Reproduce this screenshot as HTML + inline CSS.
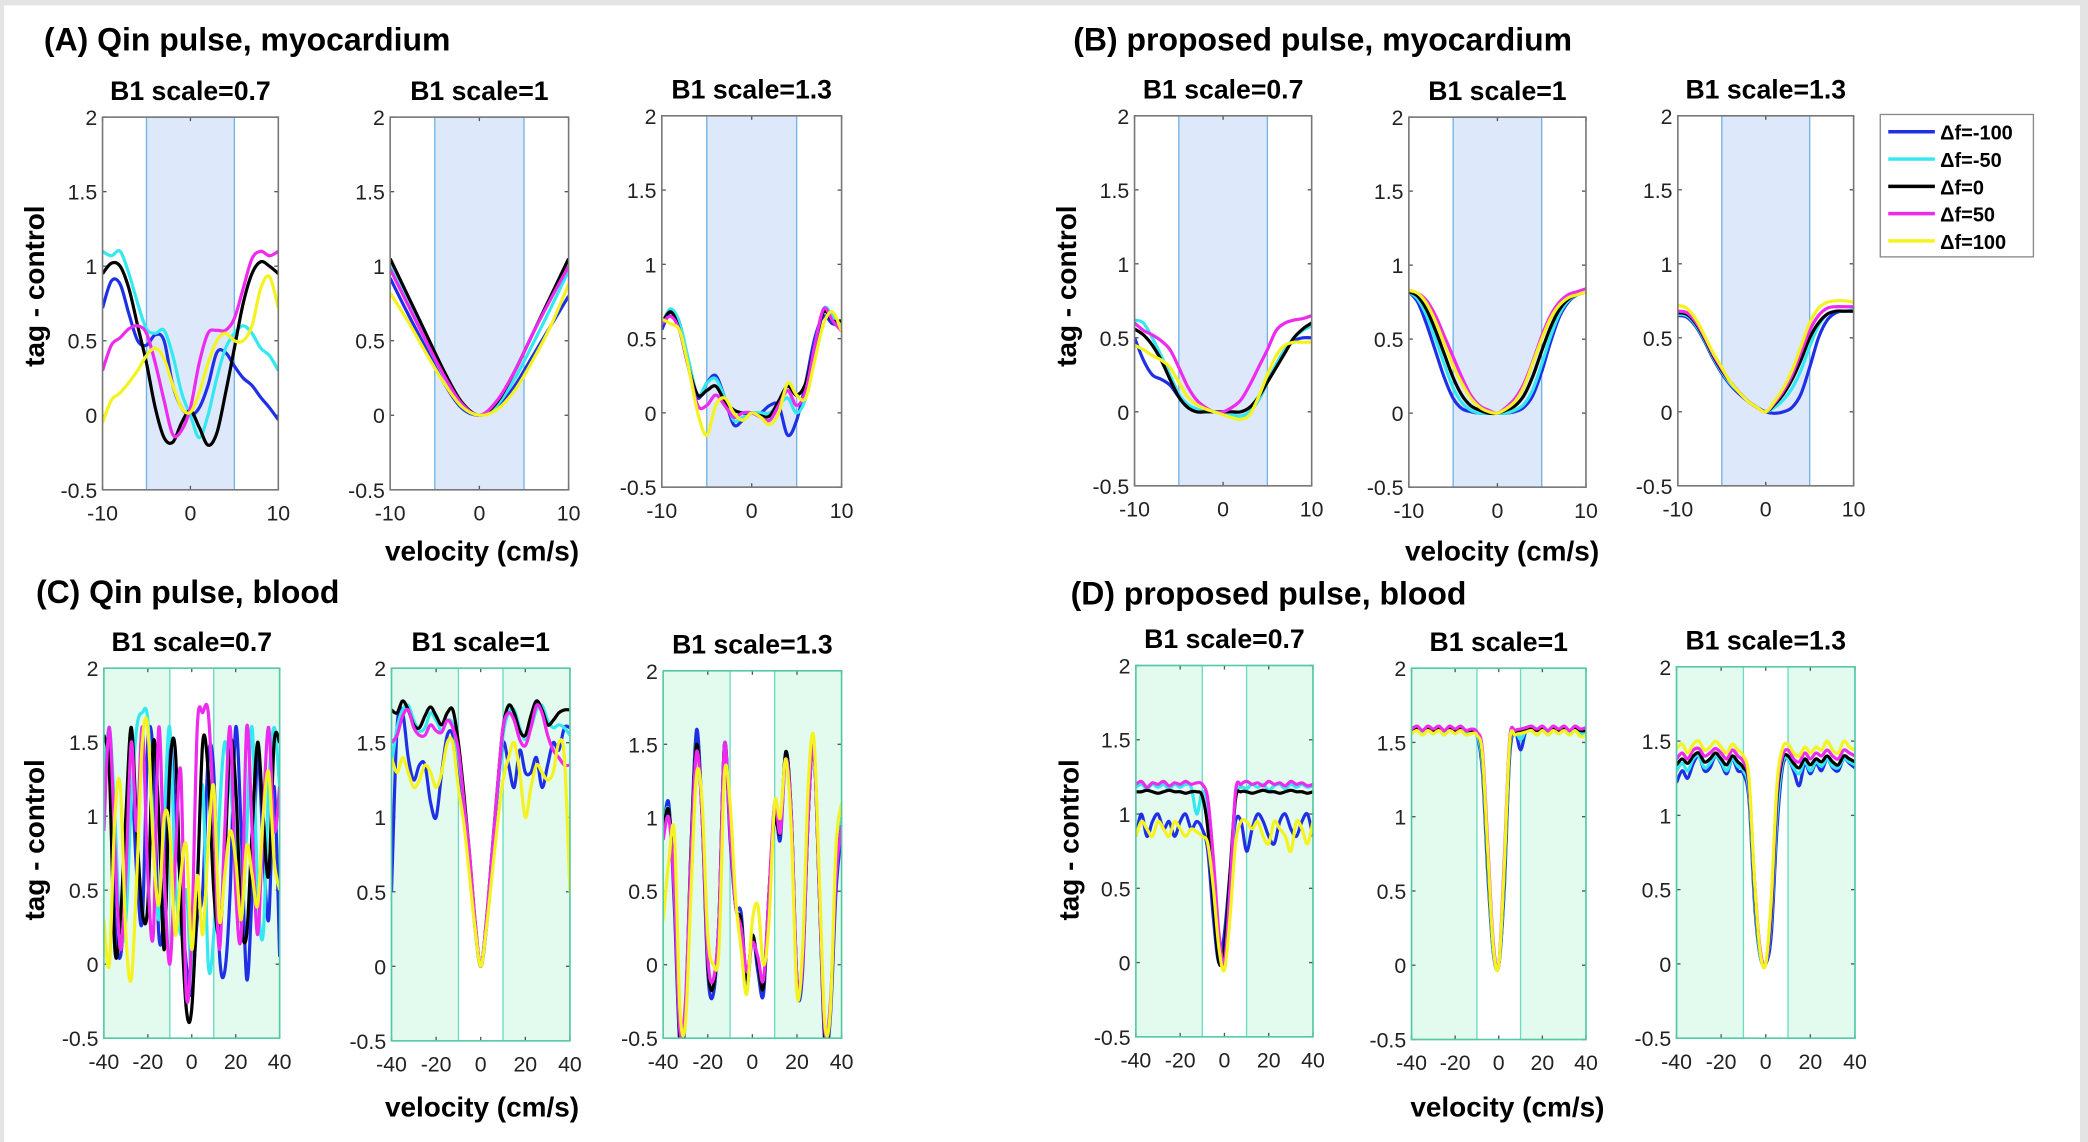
<!DOCTYPE html>
<html><head><meta charset="utf-8"><style>
html,body{margin:0;padding:0;background:#e4e4e4;}
svg{display:block;}
text{font-family:"Liberation Sans",Arial,sans-serif;}
</style></head><body>
<svg id="fig" width="2088" height="1142" viewBox="0 0 1568 858" preserveAspectRatio="none" xmlns="http://www.w3.org/2000/svg">
<rect x="3" y="4" width="1559" height="856" fill="#fff"/>
<g font-weight="bold" font-size="24" fill="#000">
<text x="33" y="38">(A) Qin pulse, myocardium</text>
<text x="806" y="38">(B) proposed pulse, myocardium</text>
<text x="27" y="453">(C) Qin pulse, blood</text>
<text x="804" y="454">(D) proposed pulse, blood</text>
</g>
<g font-weight="bold" font-size="21" fill="#000" text-anchor="middle">
<text x="362" y="421">velocity (cm/s)</text>
<text x="1128" y="421">velocity (cm/s)</text>
<text x="362" y="839">velocity (cm/s)</text>
<text x="1132" y="839">velocity (cm/s)</text>
<text transform="translate(33,215) rotate(-90)">tag - control</text>
<text transform="translate(808,215) rotate(-90)">tag - control</text>
<text transform="translate(33,631) rotate(-90)">tag - control</text>
<text transform="translate(810,631) rotate(-90)">tag - control</text>
</g>
<g id="panels"></g>
<g id="legend">
<rect x="1412" y="86" width="115" height="107" fill="#fff" stroke="#888" stroke-width="1"/>
</g>
</svg>
<script>
// ---- data ----
const seriesNames = ['\u0394f=-100','\u0394f=-50','\u0394f=0','\u0394f=50','\u0394f=100'];
const seriesColors = ['#1f2fe6','#33e8f0','#000000','#ee2aee','#f4f21f'];
const subTitles = ['B1 scale=0.7','B1 scale=1','B1 scale=1.3'];
const yTicks = [-0.5,0,0.5,1,1.5,2];
const yTickLabels = ['-0.5','0','0.5','1','1.5','2'];
const xTicksTop = [-10,0,10];
const xTicksBot = [-40,-20,0,20,40];
const velTop = [-10,-9,-8,-7,-6,-5,-4,-3,-2,-1,0,1,2,3,4,5,6,7,8,9,10];
const velTop2 = [-10,-8,-6,-4,-2,0,2,4,6,8,10];
const velBot = [-40,-37.5,-35,-32.5,-30,-27.5,-25,-22.5,-20,-17.5,-15,-12.5,-10,-7.5,-5,-2.5,0,2.5,5,7.5,10,12.5,15,17.5,20,22.5,25,27.5,30,32.5,35,37.5,40];

const A1 = [
[.72,.9,.88,.68,.5,.47,.54,.5,.2,.05,0,.05,.2,.42,.42,.33,.25,.2,.12,.05,-.03],
[1.1,1.07,1.1,.95,.75,.58,.55,.57,.4,.15,0,-.15,0,.25,.45,.55,.6,.55,.45,.4,.3],
[.95,1.02,1.0,.85,.6,.35,.05,-.15,-.18,-.05,.03,-.08,-.2,-.12,.15,.45,.75,.95,1.03,1.0,.95],
[.3,.47,.52,.58,.6,.55,.35,.1,-.13,-.1,.05,.35,.55,.57,.57,.65,.85,1.05,1.1,1.07,1.1],
[-.05,.1,.15,.22,.3,.4,.45,.38,.2,.05,.02,.15,.35,.5,.55,.5,.5,.6,.85,.93,.72]];
const A2 = [
[.92,.68,.45,.22,.05,0,.05,.2,.4,.6,.8],
[1.0,.75,.5,.27,.07,0,.07,.25,.48,.72,.97],
[1.05,.8,.55,.3,.09,0,.09,.3,.55,.8,1.05],
[.98,.74,.5,.27,.08,0,.1,.3,.55,.78,1.0],
[.82,.63,.42,.22,.06,0,.04,.17,.37,.6,.88]];
const A3 = [
[.56,.68,.6,.3,.1,.2,.25,.1,-.08,-.05,0,0,.05,.05,-.15,-.05,.2,.5,.65,.6,.6],
[.6,.7,.6,.35,.12,.2,.23,.1,-.05,-.03,0,0,0,.05,.1,0,.1,.4,.7,.65,.6],
[.6,.68,.55,.3,.12,.15,.18,.08,.02,0,0,-.02,-.02,.08,.18,.12,.2,.45,.68,.62,.62],
[.6,.65,.55,.3,.05,.05,.12,.05,-.03,0,0,-.03,-.05,.05,.15,.05,.15,.45,.7,.62,.55],
[.63,.6,.55,.3,0,-.15,.05,.1,0,-.05,0,-.03,-.08,0,.2,.12,.1,.35,.6,.68,.55]];
const B1 = [
[.5,.35,.25,.22,.18,.1,.03,.01,0,0,0,-.02,-.03,0,.08,.2,.32,.42,.48,.5,.5],
[.62,.6,.5,.38,.25,.12,.05,.02,0,0,0,-.02,-.03,0,.08,.2,.32,.42,.5,.55,.58],
[.56,.52,.45,.35,.22,.1,.03,0,0,0,0,0,0,.03,.1,.2,.3,.4,.5,.56,.6],
[.6,.55,.52,.48,.42,.3,.17,.08,.03,0,0,.03,.08,.18,.3,.42,.55,.6,.62,.63,.65],
[.45,.42,.38,.35,.3,.2,.1,.05,.02,0,-.02,-.04,-.05,-.02,.1,.25,.38,.45,.47,.47,.47]];
const B2 = [
[.82,.75,.6,.42,.24,.1,.03,.01,0,0,0,0,.01,.04,.12,.28,.48,.65,.75,.8,.82],
[.82,.77,.66,.5,.33,.17,.07,.02,0,0,0,0,.02,.06,.16,.33,.52,.67,.76,.8,.82],
[.82,.79,.7,.56,.4,.24,.12,.05,.02,0,0,.02,.05,.12,.25,.42,.58,.7,.77,.8,.82],
[.83,.81,.76,.66,.52,.38,.24,.12,.05,.02,0,.04,.1,.2,.35,.52,.66,.75,.8,.82,.84],
[.83,.81,.74,.62,.47,.32,.2,.1,.04,.01,0,.03,.08,.18,.34,.5,.64,.73,.78,.8,.82]];
const B3 = [
[.65,.64,.58,.48,.36,.26,.18,.12,.07,.03,0,-.01,0,.03,.12,.3,.5,.62,.67,.68,.68],
[.66,.65,.59,.49,.37,.27,.19,.13,.07,.03,0,.03,.08,.16,.28,.44,.58,.66,.68,.68,.69],
[.67,.66,.6,.5,.38,.28,.2,.13,.07,.03,0,.05,.12,.22,.35,.5,.6,.66,.68,.68,.68],
[.68,.67,.61,.51,.39,.29,.2,.13,.07,.03,0,.06,.14,.25,.4,.55,.65,.7,.71,.71,.71],
[.72,.7,.63,.52,.4,.3,.2,.13,.07,.03,0,.07,.16,.28,.44,.6,.7,.74,.75,.75,.74]];
const C1 = [
[1.1,1.5,.3,.05,.5,1.2,.6,.3,1.5,1.4,.2,.4,1.5,1.0,.5,0,-.2,.3,.5,1.4,1.3,.1,-.05,.5,1.6,.9,-.1,.5,1.4,.8,.3,1.2,.05],
[1.2,1.6,1.0,.2,.3,1.1,1.6,1.7,1.65,.9,.3,1.0,1.6,.6,.2,.5,-.1,.6,1.2,0,.2,1.0,1.5,1.2,.8,.3,.9,1.6,.5,.2,1.2,1.6,1.2],
[1.55,1.3,.1,.3,1.0,1.6,.9,.35,.4,1.5,1.0,.1,1.3,1.45,.4,-.3,-.3,.5,1.5,1.3,.5,.2,.7,1.5,1.2,.3,.2,.9,1.5,1.0,.6,1.5,1.5],
[.9,1.6,.8,.1,.6,1.5,.9,1.6,.6,.2,1.6,.6,0,.7,1.3,-.2,.2,1.6,1.7,1.7,1.0,.1,.9,1.6,.5,.2,1.6,.9,.2,1.0,1.6,.9,1.2],
[.3,0,1.0,1.2,.2,-.1,.6,1.5,1.6,.8,.4,1.0,.9,.2,.6,.8,.1,.6,.2,.8,1.2,.3,.6,.9,.7,.3,.8,.6,.4,1.0,1.3,.7,.5]];
const C2 = [
[.5,1.6,1.7,1.4,1.25,1.35,1.35,1.1,1.0,1.3,1.55,1.55,1.3,1.0,.65,.25,0,.25,.7,1.15,1.5,1.35,1.2,1.45,1.3,1.3,1.4,1.2,1.35,1.5,1.45,1.6,1.6],
[1.35,1.6,1.72,1.75,1.65,1.58,1.6,1.7,1.65,1.58,1.65,1.62,1.4,1.1,.7,.28,0,.28,.72,1.15,1.55,1.7,1.72,1.6,1.52,1.6,1.72,1.75,1.65,1.6,1.62,1.6,1.55],
[1.72,1.7,1.78,1.72,1.62,1.6,1.68,1.74,1.68,1.62,1.7,1.72,1.5,1.15,.75,.3,0,.3,.75,1.2,1.6,1.75,1.7,1.58,1.55,1.68,1.78,1.72,1.62,1.65,1.7,1.72,1.72],
[1.5,1.55,1.68,1.72,1.6,1.55,1.55,1.62,1.58,1.57,1.65,1.6,1.45,1.1,.75,.3,0,.3,.75,1.2,1.6,1.7,1.65,1.52,1.48,1.6,1.75,1.7,1.55,1.45,1.4,1.35,1.35],
[1.4,1.3,1.4,1.3,1.2,1.25,1.35,1.3,1.2,1.3,1.5,1.5,1.2,.95,.6,.25,0,.25,.6,.95,1.25,1.4,1.5,1.3,1.0,1.2,1.35,1.3,1.25,1.3,1.5,1.4,.5]];
const C3 = [
[.9,1.1,.4,-.55,-.35,.8,1.6,1.0,-.05,-.2,.3,1.5,.85,.4,.35,-.15,.2,-.05,-.2,.5,1.05,.85,1.45,1.0,-.15,-.05,1.0,1.5,.5,-.55,-.35,.5,.9],
[.95,1.05,.5,-.5,-.3,.8,1.5,1.0,0,-.15,.3,1.5,.95,.4,.3,-.1,.2,0,-.15,.5,1.0,.9,1.45,1.0,-.1,0,1.0,1.5,.5,-.5,-.3,.6,1.0],
[.9,1.05,.5,-.5,-.3,.8,1.5,1.0,0,-.15,.3,1.5,.9,.4,.3,-.1,.2,0,-.15,.5,1.0,.9,1.45,1.0,-.1,0,1.0,1.5,.5,-.5,-.3,.6,.95],
[.85,1.0,.5,-.45,-.25,.75,1.45,1.0,.05,-.1,.3,1.5,.9,.4,.25,-.05,.15,.05,-.1,.5,1.1,.9,1.4,1.0,-.1,0,1.0,1.5,.5,-.45,-.25,.6,.95],
[.3,.7,.9,-.3,-.4,.5,1.3,1.1,.2,.0,.1,1.3,1.1,.45,.1,-.2,.3,.4,0,.3,1.1,1.0,1.4,.9,-.2,.1,1.2,1.55,.6,-.4,-.3,.8,1.1]];
const D1 = [
[.85,1.0,.85,.95,1.0,.9,.95,.85,.95,1.0,.9,.95,.9,.75,.3,0,.2,.6,.95,.95,.75,.9,1.0,.95,.85,.8,.95,1.0,.9,.85,.95,1.0,.85],
[1.18,1.2,1.17,1.2,1.18,1.2,1.17,1.2,1.18,1.2,1.18,1.0,1.15,1.05,.6,.15,0,.45,1.1,1.18,1.17,1.2,1.18,1.2,1.16,1.19,1.2,1.17,1.2,1.18,1.2,1.18,1.19],
[1.15,1.15,1.16,1.15,1.14,1.15,1.16,1.15,1.15,1.14,1.15,1.15,1.12,.9,.4,0,.1,.6,1.1,1.15,1.15,1.14,1.15,1.16,1.15,1.15,1.14,1.15,1.16,1.15,1.15,1.14,1.15],
[1.2,1.22,1.18,1.21,1.2,1.22,1.19,1.21,1.2,1.22,1.2,1.21,1.2,1.1,.7,.2,0,.5,1.15,1.2,1.22,1.2,1.21,1.19,1.22,1.2,1.21,1.19,1.22,1.2,1.21,1.19,1.2],
[.85,.95,.9,.85,.95,.9,.85,.95,.9,.85,.9,.88,.85,.8,.5,.1,-.05,.3,.8,.95,.95,.9,.95,.85,.8,.95,.9,.85,.75,.95,.9,.8,.95]];
const D2 = [
[1.58,1.6,1.57,1.6,1.58,1.6,1.57,1.6,1.58,1.6,1.57,1.58,1.55,1.3,.6,.08,0,.5,1.4,1.57,1.45,1.58,1.6,1.58,1.6,1.57,1.6,1.58,1.6,1.57,1.6,1.55,1.57],
[1.58,1.6,1.57,1.6,1.58,1.6,1.57,1.6,1.58,1.6,1.57,1.58,1.55,1.35,.65,.1,0,.55,1.45,1.57,1.52,1.58,1.6,1.58,1.6,1.57,1.6,1.58,1.6,1.57,1.6,1.56,1.57],
[1.58,1.6,1.58,1.6,1.58,1.6,1.58,1.6,1.58,1.6,1.58,1.58,1.56,1.4,.7,.12,0,.6,1.48,1.57,1.58,1.59,1.6,1.58,1.6,1.58,1.6,1.58,1.6,1.58,1.6,1.58,1.58],
[1.59,1.61,1.58,1.61,1.59,1.61,1.58,1.61,1.59,1.61,1.58,1.59,1.57,1.45,.8,.15,0,.7,1.52,1.58,1.59,1.6,1.61,1.59,1.61,1.58,1.61,1.59,1.61,1.58,1.61,1.59,1.6],
[1.56,1.58,1.55,1.58,1.56,1.58,1.55,1.58,1.56,1.58,1.55,1.56,1.55,1.42,.75,.12,0,.65,1.5,1.55,1.56,1.57,1.58,1.55,1.58,1.55,1.58,1.56,1.58,1.55,1.58,1.54,1.55]];
const D3 = [
[1.22,1.3,1.25,1.35,1.4,1.3,1.32,1.4,1.35,1.28,1.38,1.3,1.28,1.1,.4,.05,0,.2,.9,1.32,1.38,1.3,1.2,1.35,1.28,1.35,1.3,1.38,1.32,1.3,1.38,1.35,1.32],
[1.3,1.35,1.3,1.38,1.4,1.32,1.35,1.4,1.36,1.3,1.38,1.33,1.3,1.15,.45,.06,0,.3,1.0,1.35,1.38,1.32,1.28,1.36,1.3,1.36,1.33,1.38,1.33,1.32,1.38,1.36,1.34],
[1.34,1.38,1.35,1.4,1.42,1.36,1.38,1.42,1.38,1.34,1.4,1.36,1.32,1.2,.5,.08,0,.35,1.1,1.38,1.4,1.35,1.32,1.38,1.34,1.38,1.36,1.4,1.36,1.34,1.4,1.38,1.36],
[1.38,1.42,1.38,1.44,1.45,1.4,1.42,1.45,1.42,1.38,1.44,1.4,1.36,1.22,.55,.1,0,.4,1.15,1.4,1.44,1.38,1.36,1.42,1.38,1.42,1.4,1.44,1.4,1.38,1.44,1.42,1.4],
[1.45,1.48,1.42,1.48,1.5,1.44,1.46,1.5,1.46,1.42,1.48,1.44,1.4,1.25,.55,.08,0,.45,1.2,1.45,1.48,1.42,1.4,1.46,1.42,1.46,1.44,1.5,1.44,1.42,1.5,1.46,1.44]];

// ---- layout (not data) ----
const panels = [
 {id:'a1',box:[77,88,132,280],xd:[-10,10],xt:xTicksTop,shade:'blue',v:velTop,d:A1,t:0},
 {id:'a2',box:[293,88,134,280],xd:[-10,10],xt:xTicksTop,shade:'blue',v:velTop2,d:A2,t:1},
 {id:'a3',box:[497,87,135,279],xd:[-10,10],xt:xTicksTop,shade:'blue',v:velTop,d:A3,t:2},
 {id:'b1',box:[852,87,133,278],xd:[-10,10],xt:xTicksTop,shade:'blue',v:velTop,d:B1,t:0},
 {id:'b2',box:[1058,88,133,278],xd:[-10,10],xt:xTicksTop,shade:'blue',v:velTop,d:B2,t:1},
 {id:'b3',box:[1260,87,132,278],xd:[-10,10],xt:xTicksTop,shade:'blue',v:velTop,d:B3,t:2},
 {id:'c1',box:[78,502,132,278],xd:[-40,40],xt:xTicksBot,shade:'green',v:velBot,d:C1,t:0},
 {id:'c2',box:[294,502,134,280],xd:[-40,40],xt:xTicksBot,shade:'green',v:velBot,d:C2,t:1},
 {id:'c3',box:[498,504,134,276],xd:[-40,40],xt:xTicksBot,shade:'green',v:velBot,d:C3,t:2},
 {id:'d1',box:[853,500,133,279],xd:[-40,40],xt:xTicksBot,shade:'green',v:velBot,d:D1,t:0},
 {id:'d2',box:[1060,502,131,279],xd:[-40,40],xt:xTicksBot,shade:'green',v:velBot,d:D2,t:1},
 {id:'d3',box:[1259,501,134,279],xd:[-40,40],xt:xTicksBot,shade:'green',v:velBot,d:D3,t:2}
];
const NS='http://www.w3.org/2000/svg';
function mk(tag,attrs,parent){const e=document.createElementNS(NS,tag);for(const k in attrs)e.setAttribute(k,attrs[k]);parent.appendChild(e);return e;}
function smoothPath(pts){
  let d='M'+pts[0][0].toFixed(2)+','+pts[0][1].toFixed(2);
  for(let i=0;i<pts.length-1;i++){
    const p0=pts[i-1]||pts[i],p1=pts[i],p2=pts[i+1],p3=pts[i+2]||p2;
    const c1=[p1[0]+(p2[0]-p0[0])/6,p1[1]+(p2[1]-p0[1])/6];
    const c2=[p2[0]-(p3[0]-p1[0])/6,p2[1]-(p3[1]-p1[1])/6];
    d+='C'+c1[0].toFixed(2)+','+c1[1].toFixed(2)+' '+c2[0].toFixed(2)+','+c2[1].toFixed(2)+' '+p2[0].toFixed(2)+','+p2[1].toFixed(2);
  }
  return d;
}
const root=document.getElementById('panels');
panels.forEach(p=>{
  const [bx,by,bw,bh]=p.box;
  const sx=v=>bx+(v-p.xd[0])/(p.xd[1]-p.xd[0])*bw;
  const sy=v=>by+bh-(v+0.5)/2.5*bh;
  const g=mk('g',{},root);
  
  
  const st=mk('text',{x:bx+bw/2,y:by-13,'text-anchor':'middle','font-size':'20','font-weight':'bold'},g);
  st.textContent=subTitles[p.t];
  
  
  const cid='clip-'+p.id;
  const cp=mk('clipPath',{id:cid},g);
  mk('rect',{x:bx,y:by,width:bw,height:bh},cp);
  if(p.shade==='blue'){
    const r=mk('rect',{x:sx(-5),y:by,width:sx(5)-sx(-5),height:bh,fill:'#dde9fb',stroke:'#74b2e4','stroke-width':1},g);
    
    
  } else {
    const r1=mk('rect',{x:sx(-40),y:by,width:sx(-10)-sx(-40),height:bh,fill:'#e3faee',stroke:'#6adcc2','stroke-width':1},g);
    
    
    const r2=mk('rect',{x:sx(10),y:by,width:sx(40)-sx(10),height:bh,fill:'#e3faee',stroke:'#6adcc2','stroke-width':1},g);
    
    
  }
  const ax=mk('g',{stroke:'#555','stroke-width':1},g);
  
  
  yTicks.forEach((t,i)=>{
    const y=sy(t);
    mk('line',{x1:bx,y1:y,x2:bx+3,y2:y},ax);
    mk('line',{x1:bx+bw,y1:y,x2:bx+bw-3,y2:y},ax);
    const tl=mk('text',{x:bx-4,y:y+6,'text-anchor':'end','font-size':'16',stroke:'none',fill:'#222'},g);
    tl.textContent=yTickLabels[i];
    
    
  });
  p.xt.forEach(t=>{
    const x=sx(t);
    mk('line',{x1:x,y1:by+bh,x2:x,y2:by+bh-3},ax);
    mk('line',{x1:x,y1:by,x2:x,y2:by+3},ax);
    const tl=mk('text',{x:x,y:by+bh+23,'text-anchor':'middle','font-size':'16',stroke:'none',fill:'#222'},g);
    tl.textContent=String(t);
    
    
  });
  const lines=mk('g',{'clip-path':'url(#'+cid+')',fill:'none','stroke-width':2.4,'stroke-linejoin':'round'},g);
  p.d.forEach((vals,si)=>{
    const pts=vals.map((v,i)=>[sx(p.v[i]),sy(v)]);
    const pa=mk('path',{d:smoothPath(pts),stroke:seriesColors[si]},lines);
    
    
  });
  const frame=mk('rect',{x:bx,y:by,width:bw,height:bh,fill:'none',stroke:p.shade==='blue'?'#777':'#55c9a6','stroke-width':1.2},g);
  
  
});
const lg=document.getElementById('legend');
seriesNames.forEach((n,i)=>{
  const y=99+i*20.5;
  const ln=mk('line',{x1:1418,y1:y,x2:1453,y2:y,stroke:seriesColors[i],'stroke-width':2.6},lg);
  
  
  const tx=mk('text',{x:1457,y:y+6,'font-size':'15','font-weight':'bold'},lg);
  tx.textContent=n;
  
  
});
</script>
</body></html>
